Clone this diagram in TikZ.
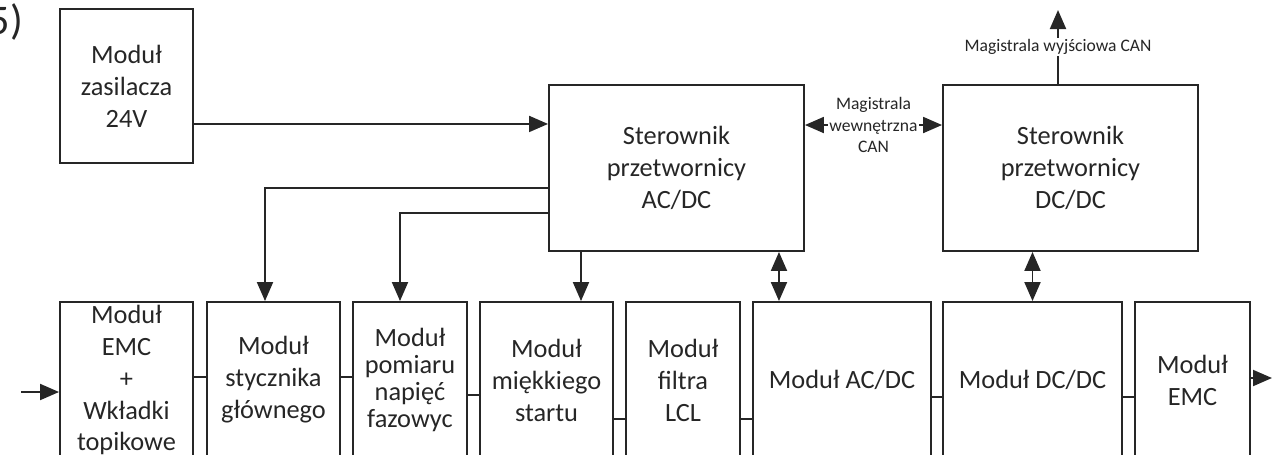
\documentclass[tikz,border=0pt]{standalone}
\usepackage{fontspec}
\setmainfont{Carlito}
\usetikzlibrary{arrows.meta}

\begin{document}
\begin{tikzpicture}[x=0.02cm, y=-0.02cm, line width=1.1pt, color=black!85,
    box/.style = {draw, rectangle, inner sep=0pt, align=center, font=\fontsize{15}{18.2}\selectfont},
    tip/.style = {-{Triangle[length=3.8mm,width=3.2mm]}},
    dtip/.style = {{Triangle[length=3.8mm,width=3.2mm]}-{Triangle[length=3.8mm,width=3.2mm]}},
    small/.style = {font=\fontsize{10}{12}\selectfont, fill=white, inner sep=1pt, align=center}]

    \useasboundingbox (0,0) rectangle (1275,454);
    \clip (0,0) rectangle (1275,454);

    \node (nr) [anchor=east, inner sep=0pt, font=\fontsize{24}{24}\selectfont] at (24,22) {5)};

    % gorny rzad
    \node[box, minimum width=2.66cm, minimum height=3.08cm] (zas) at (126.5,86) {Moduł\\zasilacza\\24V};
    \node[box, minimum width=5.1cm, minimum height=3.32cm] (sacdc) at (676.5,168) {Sterownik\\przetwornicy\\AC/DC};
    \node[box, minimum width=5.1cm, minimum height=3.32cm] (sdcdc) at (1070.5,168) {Sterownik\\przetwornicy\\DC/DC};

    % dolny rzad
    \node[box, minimum width=2.66cm, minimum height=3.12cm] (emc1) at (126.5,380) {Moduł\\EMC\\+\\Wkładki\\topikowe};
    \node[box, minimum width=2.66cm, minimum height=3.12cm] (styc) at (273.5,380) {Moduł\\stycznika\\głównego};
    \node[box, minimum width=2.28cm, minimum height=3.12cm, font=\fontsize{15}{15.3}\selectfont] (pom) at (410,380) {Moduł\\pomiaru\\napięć\\fazowyc};
    \node[box, minimum width=2.66cm, minimum height=3.12cm] (miek) at (546.5,380) {Moduł\\miękkiego\\startu};
    \node[box, minimum width=2.28cm, minimum height=3.12cm] (lcl) at (683,380) {Moduł\\filtra\\LCL};
    \node[box, minimum width=3.56cm, minimum height=3.12cm] (macdc) at (842,380) {Moduł AC/DC};
    \node[box, minimum width=3.58cm, minimum height=3.12cm] (mdcdc) at (1032.5,380) {Moduł DC/DC};
    \node[box, minimum width=2.3cm, minimum height=3.12cm] (emc2) at (1192.5,380) {Moduł\\EMC};

    \coordinate (wej) at (21,392);
    \coordinate (wyj) at (1272,378);
    \coordinate (canout) at (1058,10);

    % zasilanie i sterowanie
    \draw[tip] ([yshift=0.8cm]zas.south east) -- ([yshift=0.8cm]zas.south east -| sacdc.west);
    \draw[tip] ([yshift=-0.4cm]sacdc.west) -| ([xshift=-0.17cm]styc.north);
    \draw[tip] ([yshift=-0.9cm]sacdc.west) -| ([xshift=-0.2cm]pom.north);
    \draw[tip] ([xshift=0.69cm]miek.north |- sacdc.south) -- ([xshift=0.69cm]miek.north);
    \draw[dtip] ([xshift=2.05cm]sacdc.south) -- ([xshift=2.05cm]sacdc.south |- macdc.north);
    \draw[dtip] (mdcdc.north |- sdcdc.south) -- (mdcdc.north);

    % magistrale CAN
    \draw[dtip] ([yshift=0.86cm]sacdc.east) -- ([yshift=0.86cm]sacdc.east -| sdcdc.west)
        node[midway, small] {Magistrala\\wewnętrzna\\CAN};
    \draw[tip] (canout |- sdcdc.north) -- (canout)
        node[pos=0.5, small] {Magistrala wyjściowa CAN};

    % tor mocy
    \draw[tip] (wej) -- (wej -| emc1.west);
    \path ([yshift=0.06cm]emc1.east) edge ([yshift=0.06cm]styc.west);
    \path ([yshift=0.06cm]styc.east) edge ([yshift=0.06cm]pom.west);
    \path ([yshift=-0.3cm]pom.east) edge ([yshift=-0.3cm]miek.west);
    \path ([yshift=-0.78cm]miek.east) edge ([yshift=-0.78cm]lcl.west);
    \path ([yshift=-0.78cm]lcl.east) edge ([yshift=-0.78cm]macdc.west);
    \path ([yshift=-0.34cm]macdc.east) edge ([yshift=-0.34cm]mdcdc.west);
    \path ([yshift=-0.34cm]mdcdc.east) edge ([yshift=-0.34cm]emc2.west);
    \draw[tip] (emc2.east |- wyj) -- (wyj);
\end{tikzpicture}
\end{document}
